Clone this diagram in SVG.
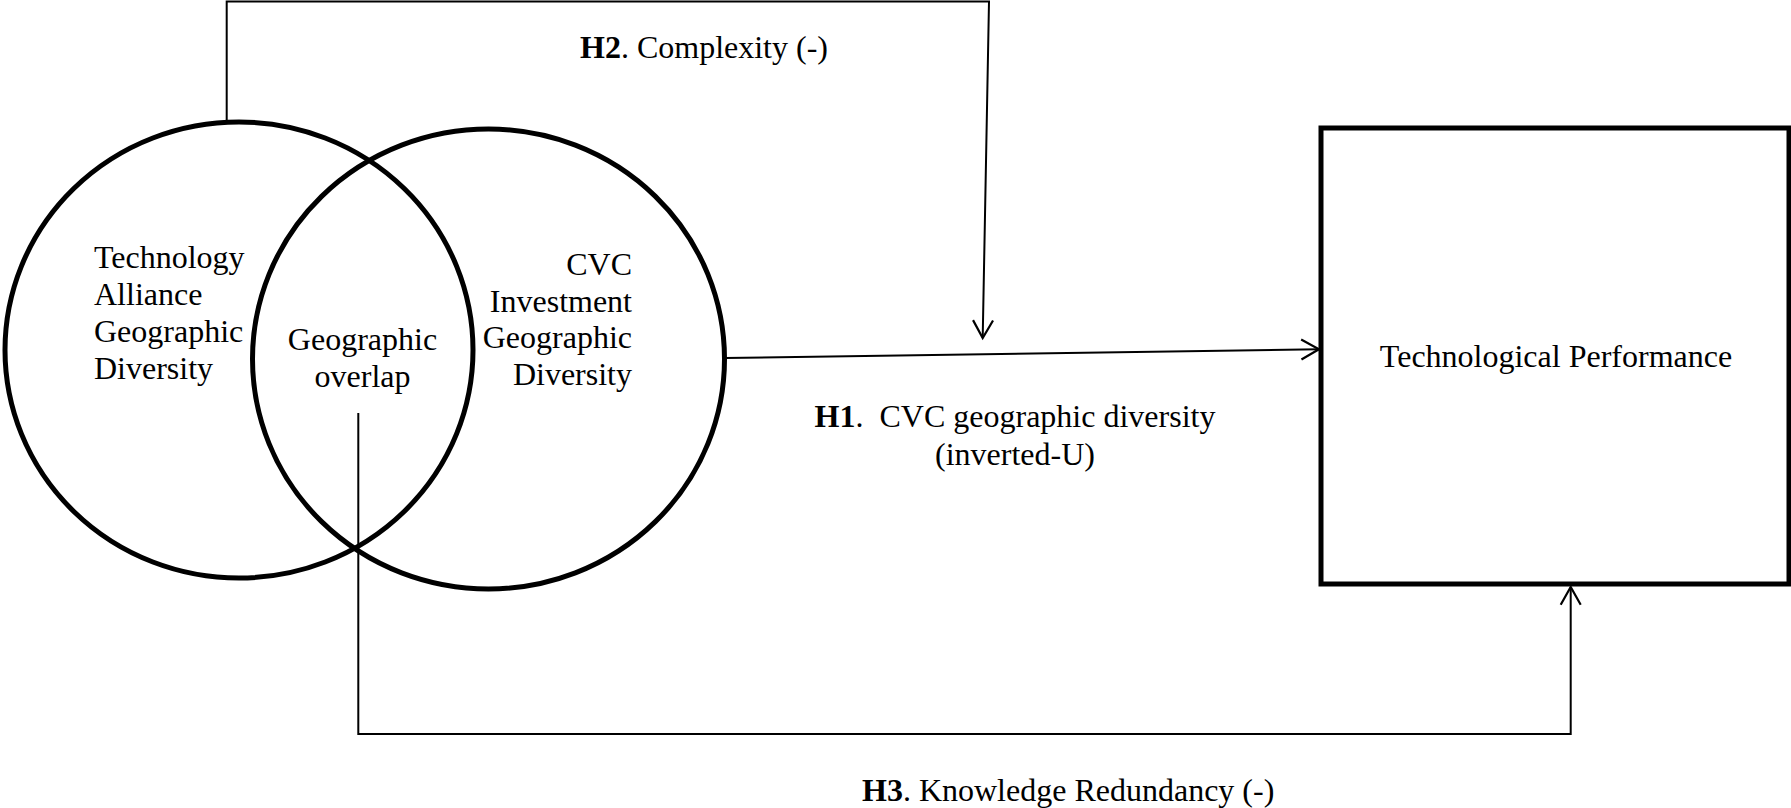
<svg xmlns="http://www.w3.org/2000/svg" width="1791" height="808" viewBox="0 0 1791 808">
<style>
  text { font-family: "Liberation Serif", "Times New Roman", serif; font-size: 32px; fill: #000; }
  .b { font-weight: bold; }
  .shape { fill: none; stroke: #000; stroke-width: 5; }
  .conn { fill: none; stroke: #000; stroke-width: 2; }
</style>
<defs>
  <marker id="arrow" markerUnits="userSpaceOnUse" markerWidth="24" markerHeight="24" viewBox="-20 -12 24 24" refX="0" refY="0" orient="auto">
    <path d="M-17.7,-10 L0,0 L-17.7,10" fill="none" stroke="#000" stroke-width="2.2"/>
  </marker>
</defs>
<rect width="1791" height="808" fill="#fff"/>

<g id="node-alliance">
  <ellipse class="shape" cx="239" cy="350" rx="234" ry="228"/>
  <text x="94" y="268">Technology</text>
  <text x="94" y="305">Alliance</text>
  <text x="94" y="342">Geographic</text>
  <text x="94" y="379">Diversity</text>
</g>

<g id="node-cvc">
  <ellipse class="shape" cx="488.5" cy="359" rx="236" ry="230"/>
  <text x="632" y="275" text-anchor="end">CVC</text>
  <text x="632" y="312" text-anchor="end">Investment</text>
  <text x="632" y="348" text-anchor="end">Geographic</text>
  <text x="632" y="385" text-anchor="end">Diversity</text>
</g>

<g id="node-overlap">
  <text x="362.5" y="350" text-anchor="middle">Geographic</text>
  <text x="362.5" y="387" text-anchor="middle">overlap</text>
</g>

<g id="node-performance">
  <rect class="shape" x="1321" y="128" width="468" height="456"/>
  <text x="1556" y="367" text-anchor="middle">Technological Performance</text>
</g>

<g id="connectors">
  <path class="conn" d="M226.7,120 L226.7,1.5 L989,1.5 L982.7,338" marker-end="url(#arrow)"/>
  <path class="conn" d="M725,358 L1319,349.3" marker-end="url(#arrow)"/>
  <path class="conn" d="M358.3,413 L358.3,734 L1570.7,734 L1570.7,587" marker-end="url(#arrow)"/>
</g>

<g id="labels">
  <text x="580" y="58"><tspan class="b">H2</tspan>. Complexity (-)</text>
  <text x="1015" y="427" text-anchor="middle" xml:space="preserve"><tspan class="b">H1</tspan>.  CVC geographic diversity</text>
  <text x="1015" y="465" text-anchor="middle">(inverted-U)</text>
  <text x="862" y="801"><tspan class="b">H3</tspan>. Knowledge Redundancy (-)</text>
</g>
</svg>
